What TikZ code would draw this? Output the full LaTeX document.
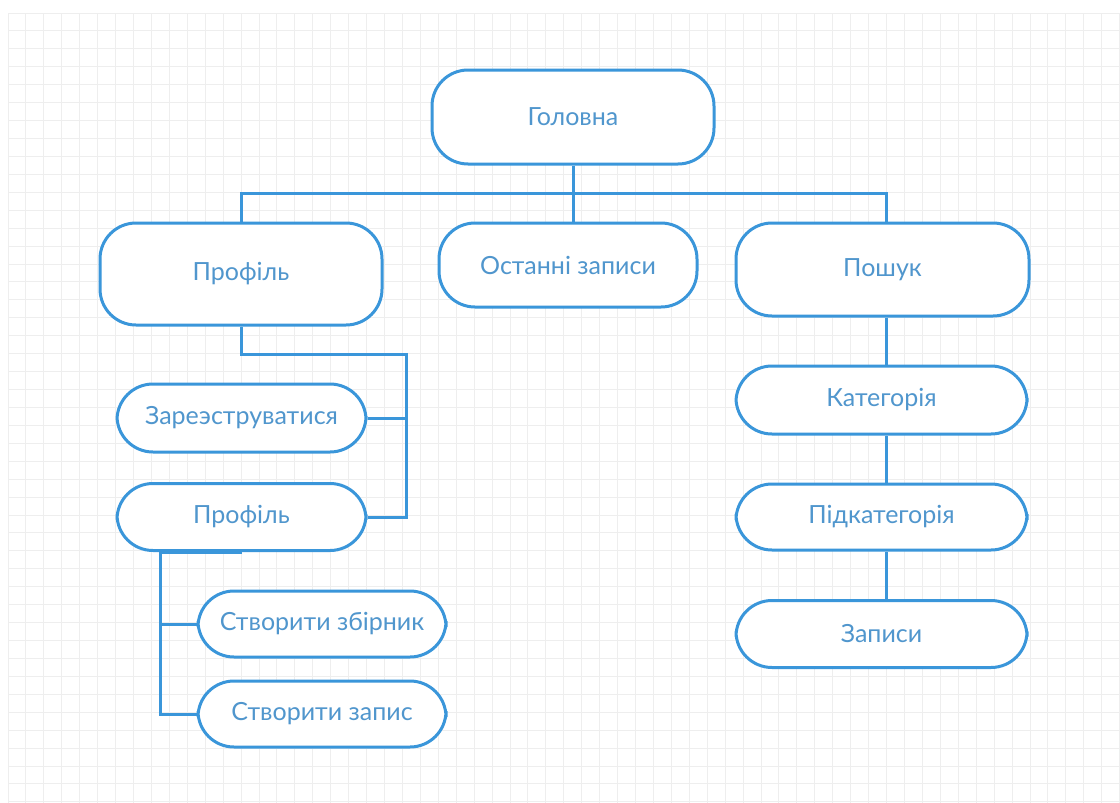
\documentclass[tikz,border=0pt]{standalone}
\usepackage{fontspec}
\setmainfont{Lato}
\usetikzlibrary{positioning}
\definecolor{lineblue}{RGB}{58,150,218}
\definecolor{textblue}{RGB}{80,150,205}
\definecolor{gridgray}{RGB}{238,238,238}

\begin{document}
\begin{tikzpicture}[
    x=1pt, y=-1pt,
    box/.style={draw=lineblue, line width=3pt, rounded corners=36pt, fill=white,
        text=textblue, inner sep=0pt, font=\fontsize{25}{30}\selectfont},
    link/.style={draw=lineblue, line width=3pt},
    gridline/.style={gridgray, line width=1pt}
]
    \useasboundingbox (0,0) rectangle (1120,803);
    \clip (0,0) rectangle (1120,803);

    % Grid
    \fill[white] (0,0) rectangle (1120,803);
    \foreach \i in {0,...,62}
        \draw[gridline] ({8+17.93*\i},13) -- ({8+17.93*\i},803);
    \foreach \j in {0,...,44}
        \draw[gridline] (8,{13+17.93*\j}) -- (1120,{13+17.93*\j});

    % Top level
    \node[box, minimum width=282pt, minimum height=94pt] (holovna) at (573,117) {Головна};

    % Sections
    \node[box, minimum width=282pt, minimum height=102pt] (profil) at (241,274) {Профіль};
    \node[box, minimum width=258pt, minimum height=84pt] (ostanni) at (568,265) {Останні записи};
    \node[box, minimum width=293pt, minimum height=93pt] (poshuk) at (882.5,269.5) {Пошук};

    % Profile branch
    \node[box, minimum width=249pt, minimum height=68pt] (zareestr) at (241.5,418) {Зареэструватися};
    \node[box, minimum width=249pt, minimum height=67pt] (profil2) at (241.5,517) {Профіль};
    \node[box, minimum width=248pt, minimum height=66pt] (zbirnyk) at (322,624) {Створити збірник};
    \node[box, minimum width=248pt, minimum height=66pt] (zapys) at (322,714) {Створити запис};

    % Search branch
    \node[box, minimum width=291pt, minimum height=68pt] (katehoriia) at (881.5,400) {Категорія};
    \node[box, minimum width=291pt, minimum height=66pt] (pidkat) at (881.5,517) {Підкатегорія};
    \node[box, minimum width=291pt, minimum height=67pt] (zapysy) at (881.5,634) {Записи};

    % Connectors
    \coordinate (bus) at (573,193);
    \coordinate (busR) at (886,193);
    \coordinate (elbow) at (406,354);
    \coordinate (trunk) at (160,551);

    \draw[link] (holovna.south) -- (bus);
    \draw[link] (profil.north) |- (busR) -- (busR |- poshuk.north);
    \draw[link] (bus) -- (bus |- ostanni.north);

    \draw[link] (profil.south) |- (elbow) |- (profil2.east);
    \draw[link] (elbow |- zareestr.east) -- (zareestr.east);

    \draw[link] (profil2.south) -- (profil2.south -| trunk) |- (zapys.west);
    \draw[link] (trunk |- zbirnyk.west) -- (zbirnyk.west);

    \draw[link] (busR |- poshuk.south) -- (busR |- katehoriia.north);
    \draw[link] (busR |- katehoriia.south) -- (busR |- pidkat.north);
    \draw[link] (busR |- pidkat.south) -- (busR |- zapysy.north);
\end{tikzpicture}
\end{document}
